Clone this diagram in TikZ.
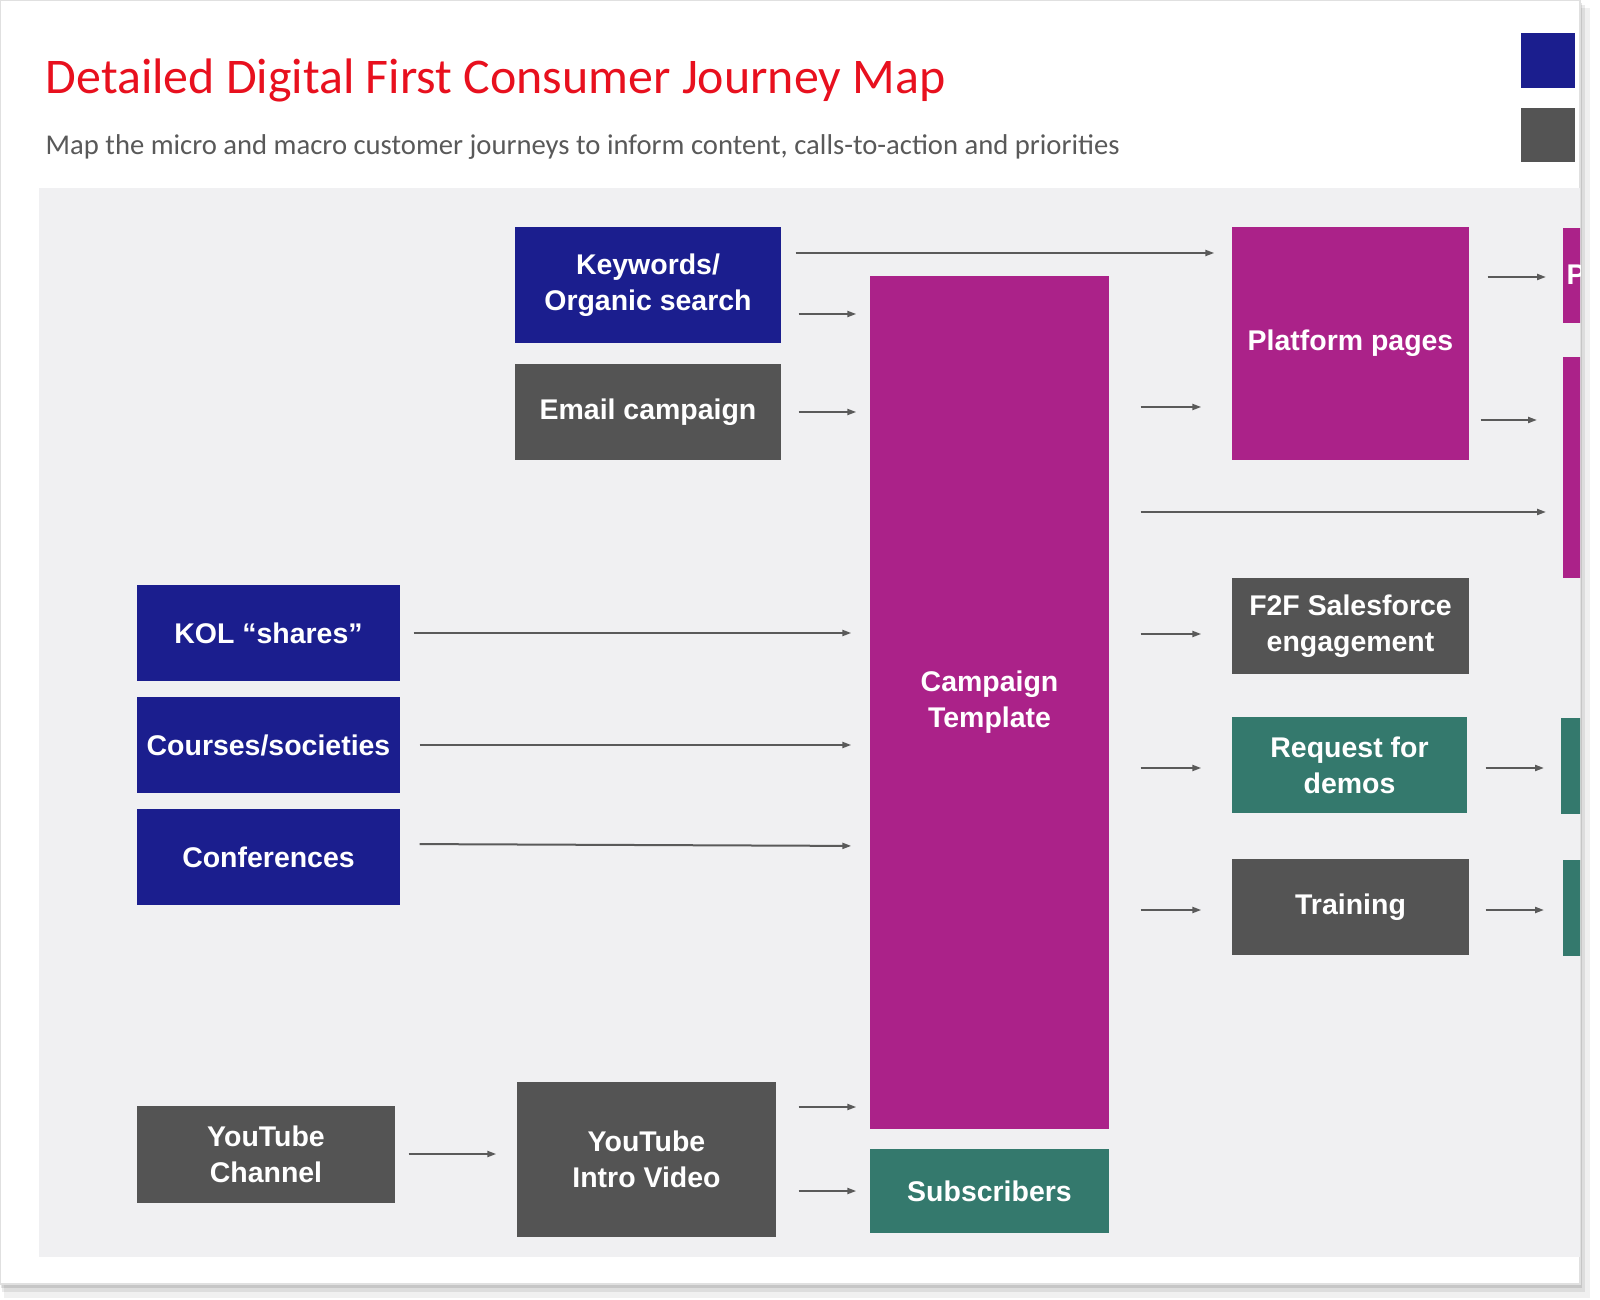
\documentclass[tikz,border=0pt]{standalone}
\usepackage{fontspec}
\setmainfont{Carlito}
\newfontfamily\boxfont{Liberation Sans}
\usetikzlibrary{arrows.meta, positioning, calc}

\definecolor{navy}{HTML}{1B1E8E}
\definecolor{slate}{HTML}{545454}
\definecolor{plum}{HTML}{AB2289}
\definecolor{teal}{HTML}{34796D}
\definecolor{panel}{HTML}{F0F0F2}
\definecolor{titlered}{HTML}{E8101E}
\definecolor{subgray}{HTML}{595959}
\definecolor{arrowgray}{HTML}{5A5A5A}

\tikzset{
  jbox/.style={rectangle, draw=none, inner sep=0pt, align=center, text=white,
    font=\boxfont\bfseries\fontsize{8.1}{10.2}\selectfont},
  flow/.style={draw=arrowgray, line width=0.02cm,
    -{Triangle[length=0.09cm, width=0.06cm]}},
}

\begin{document}
\begin{tikzpicture}[x=1cm, y=-1cm]
  \useasboundingbox (0,0) rectangle (16,13);

  % card, shadow and grey panel
  \fill[black, opacity=0.06] (0.04,0.08) rectangle (15.90,12.98);
  \fill[black, opacity=0.08] (0.02,0.05) rectangle (15.85,12.92);
  \fill[black, opacity=0.10] (0.01,0.03) rectangle (15.82,12.88);
  \filldraw[fill=white, draw=black!12] (0,0) rectangle (15.80,12.84);
  \fill[panel] (0.39,1.88) rectangle (15.80,12.57);

  % title
  \node[anchor=base west, inner sep=0pt, text=titlered, font=\fontsize{14.2}{17}\selectfont] (title) at (0.45,0.94) {Detailed Digital First Consumer Journey Map};
  \node[anchor=base west, inner sep=0pt, text=subgray, font=\fontsize{8.15}{9.8}\selectfont] (subtitle) at (0.45,1.55) {Map the micro and macro customer journeys to inform content, calls-to-action and priorities};

  % legend squares
  \fill[navy] (15.21,0.33) rectangle (15.75,0.88);
  \fill[slate] (15.21,1.08) rectangle (15.75,1.62);

  % sources
  \node[jbox, fill=navy, minimum width=2.66cm, minimum height=1.16cm] (kw) at (6.48,2.85) {Keywords/\\Organic search};
  \node[jbox, fill=slate, minimum width=2.66cm, minimum height=0.96cm] (email) at (6.48,4.12) {Email campaign};
  \node[jbox, fill=navy, minimum width=2.63cm, minimum height=0.96cm] (kol) at (2.685,6.33) {KOL “shares”};
  \node[jbox, fill=navy, minimum width=2.63cm, minimum height=0.96cm] (course) at (2.685,7.45) {Courses/societies};
  \node[jbox, fill=navy, minimum width=2.63cm, minimum height=0.96cm] (conf) at (2.685,8.57) {Conferences};
  \node[jbox, fill=slate, minimum width=2.58cm, minimum height=0.97cm] (ytch) at (2.66,11.545) {YouTube\\Channel};
  \node[jbox, fill=slate, minimum width=2.59cm, minimum height=1.55cm] (ytvid) at (6.465,11.595) {YouTube\\Intro Video};

  % campaign
  \node[jbox, fill=plum, minimum width=2.39cm, minimum height=8.53cm] (camp) at (9.895,7.025) {Campaign\\Template};
  \node[jbox, fill=teal, minimum width=2.39cm, minimum height=0.84cm] (subs) at (9.895,11.91) {Subscribers};

  % outcomes
  \node[jbox, fill=plum, minimum width=2.37cm, minimum height=2.33cm] (plat) at (13.505,3.435) {Platform pages};
  \node[jbox, fill=slate, minimum width=2.37cm, minimum height=0.96cm] (f2f) at (13.505,6.26) {F2F Salesforce\\engagement};
  \node[jbox, fill=teal, minimum width=2.35cm, minimum height=0.96cm] (demo) at (13.495,7.65) {Request for\\demos};
  \node[jbox, fill=slate, minimum width=2.37cm, minimum height=0.96cm] (train) at (13.505,9.07) {Training};

  % next column, cut off by the card edge
  \begin{scope}
    \clip (0,0) rectangle (15.80,12.84);
    \node[jbox, fill=plum, anchor=north west, minimum width=0.6cm, minimum height=0.95cm, text width=0.52cm, inner xsep=0.04cm, align=left] (pnext) at (15.62,2.27) {P};
    \node[jbox, fill=plum, anchor=north west, minimum width=0.6cm, minimum height=2.21cm] (pnext2) at (15.62,3.56) {};
    \node[jbox, fill=teal, anchor=north west, minimum width=0.6cm, minimum height=0.96cm] (tnext) at (15.60,7.17) {};
    \node[jbox, fill=teal, anchor=north west, minimum width=0.6cm, minimum height=0.96cm] (tnext2) at (15.62,8.59) {};
  \end{scope}

  % connectors
  \draw[flow, shorten <=0.14cm, shorten >=0.17cm] (kw.east |- 0,2.53) -- (plat.west |- 0,2.53);
  \draw[flow, shorten <=0.17cm, shorten >=0.13cm] (kw.east |- 0,3.14) -- (camp.west |- 0,3.14);
  \draw[flow, shorten <=0.17cm, shorten >=0.13cm] (email.east) -- (camp.west |- email.east);
  \draw[flow, shorten <=0.13cm, shorten >=0.18cm] (kol.east) -- (camp.west |- kol.east);
  \draw[flow, shorten <=0.19cm, shorten >=0.18cm] (course.east) -- (camp.west |- course.east);
  \draw[flow, shorten <=0.19cm, shorten >=0.18cm] (conf.east |- 0,8.44) -- (camp.west |- 0,8.46);
  \draw[flow, shorten <=0.13cm, shorten >=0.20cm] (ytch.east |- 0,11.54) -- (ytvid.west |- 0,11.54);
  \draw[flow, shorten <=0.22cm, shorten >=0.13cm] (ytvid.east |- 0,11.07) -- (camp.west |- 0,11.07);
  \draw[flow, shorten <=0.22cm, shorten >=0.13cm] (ytvid.east |- subs.west) -- (subs.west);

  \draw[flow, shorten <=0.31cm, shorten >=0.30cm] (camp.east |- 0,4.07) -- (plat.west |- 0,4.07);
  \draw[flow, shorten <=0.31cm, shorten >=0.16cm] (camp.east |- 0,5.12) -- (pnext2.west |- 0,5.12);
  \draw[flow, shorten <=0.31cm, shorten >=0.30cm] (camp.east |- 0,6.34) -- (f2f.west |- 0,6.34);
  \draw[flow, shorten <=0.31cm, shorten >=0.30cm] (camp.east |- 0,7.68) -- (demo.west |- 0,7.68);
  \draw[flow, shorten <=0.31cm, shorten >=0.30cm] (camp.east |- 0,9.10) -- (train.west |- 0,9.10);

  \draw[flow, shorten <=0.18cm, shorten >=0.16cm] (plat.east |- 0,2.77) -- (pnext.west |- 0,2.77);
  \draw[flow, shorten <=0.11cm, shorten >=0.25cm] (plat.east |- 0,4.20) -- (pnext2.west |- 0,4.20);
  \draw[flow, shorten <=0.18cm, shorten >=0.16cm] (demo.east |- 0,7.68) -- (tnext.west |- 0,7.68);
  \draw[flow, shorten <=0.16cm, shorten >=0.18cm] (train.east |- 0,9.10) -- (tnext2.west |- 0,9.10);
\end{tikzpicture}
\end{document}
